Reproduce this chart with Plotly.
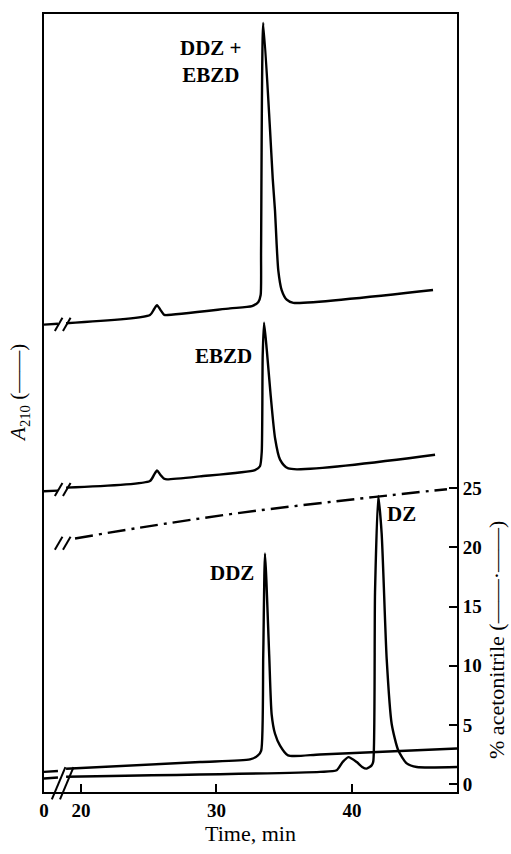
import plotly.graph_objects as go

# ---------------- data ----------------
# time axis: left edge is labelled "0", then an axis break, then 20..47 min
X_RANGE = [17.27, 47.75]
X_TICKVALS = [17.27, 20, 30, 40]
X_TICKTEXT = ["0", "20", "30", "40"]
Y_RANGE = [-0.67, 65.08]
ACN_TICKS = [0, 5, 10, 15, 20, 25]
BREAKS = [18.35, 18.95]

# top chromatogram: DDZ + EBZD (offset A210 trace, arbitrary units)
TOP_T = [17.27, 18.3, None, 18.9, 25.09, 25.40, 25.61, 25.85, 26.10, 26.20, 31.00, 32.62,
         33.09, 33.26, 33.29, 33.45, 33.95, 34.15, 34.32, 34.44, 34.56, 34.81, 35.18, 35.67, 45.98]
TOP_A = [38.83, 38.90, None, 38.95, 39.64, 40.15, 40.47, 40.10, 39.70, 39.64, 40.20, 40.40,
         40.75, 41.33, 45.0, 64.33, 55.33, 51.17, 48.42, 45.61, 43.42, 41.75, 40.94, 40.67, 41.75]

# middle chromatogram: EBZD
MID_T = [17.27, 18.3, None, 18.9, 25.09, 25.40, 25.61, 25.85, 26.15, 26.35, 28.78, 32.84,
         33.21, 33.34, 33.41, 33.51, 33.71, 34.00, 34.32, 34.69, 35.30, 46.13]
MID_A = [24.75, 24.80, None, 25.05, 25.61, 26.15, 26.50, 26.15, 25.80, 25.75, 26.00, 26.53,
         26.86, 28.10, 36.17, 39.00, 36.72, 32.83, 29.25, 27.42, 26.67, 27.83]

# bottom chromatograms: DDZ and DZ
DDZ_T = [17.27, 18.3, None, 18.9, 28.78, 32.47, 33.06, 33.30, 33.45, 33.58, 33.89, 34.07,
         34.32, 34.69, 35.28, 37.64, 47.75]
DDZ_A = [1.03, 1.10, None, 1.30, 1.86, 2.08, 2.42, 2.83, 10.90, 19.50, 10.90, 5.90,
         4.25, 3.25, 2.42, 2.50, 3.00]

DZ_T = [17.27, 18.3, None, 18.9, 37.64, 38.87, 39.31, 39.73, 40.35, 40.75, 41.08, 41.45,
        41.57, 41.70, 41.94, 42.19, 42.56, 42.93, 43.42, 44.04, 44.78, 47.75]
DZ_A = [0.475, 0.55, None, 0.62, 1.03, 1.17, 1.86, 2.28, 1.86, 1.45, 1.31, 1.58,
        1.90, 16.20, 24.36, 21.17, 10.58, 5.08, 2.83, 1.75, 1.44, 1.44]

# % acetonitrile gradient (right axis)
ACN_T = [19.56, 24.35, 31.73, 41.55, 47.01]
ACN_P = [20.75, 21.67, 22.92, 24.25, 24.92]

# peak labels
LABELS = [
    ("DDZ +<br>EBZD", 29.59, 61.1),
    ("EBZD", 30.50, 36.2),
    ("DDZ", 31.18, 17.83),
    ("DZ", 43.65, 22.79),
]

SERIF = "Liberation Serif, Times New Roman, serif"
LW = 2.4

fig = go.Figure()
for t, a in [(TOP_T, TOP_A), (MID_T, MID_A), (DDZ_T, DDZ_A), (DZ_T, DZ_A)]:
    fig.add_trace(go.Scatter(x=t, y=a, mode="lines",
                             line=dict(color="black", width=LW, shape="spline", smoothing=0.6),
                             connectgaps=False, showlegend=False, hoverinfo="skip"))

fig.add_trace(go.Scatter(x=ACN_T, y=ACN_P, mode="lines", yaxis="y2",
                         line=dict(color="black", width=LW, dash="18px,6px,3px,6px", shape="spline"),
                         showlegend=False, hoverinfo="skip"))

# break marks on each trace
shapes = []
dx, dy = 0.28, 0.55
centers = [TOP_A[1] - 0.05, MID_A[1] + 0.1, ACN_P[0] - 0.4]
for vc in centers:
    for tb in BREAKS:
        shapes.append(dict(type="line", xref="x", yref="y", x0=tb - dx, y0=vc - dy, x1=tb + dx, y1=vc + dy,
                           line=dict(color="black", width=2)))
# long break marks through the bottom two traces and the time axis
span = X_RANGE[1] - X_RANGE[0]
for tb in BREAKS:
    shapes.append(dict(type="line", xref="paper", yref="paper",
                       x0=(tb - 0.5 - X_RANGE[0]) / span, y0=-0.0095,
                       x1=(tb + 0.5 - X_RANGE[0]) / span, y1=0.032,
                       line=dict(color="black", width=2)))
fig.update_layout(shapes=shapes)

for text, x, y in LABELS:
    fig.add_annotation(x=x, y=y, text=f"<b>{text}</b>", showarrow=False,
                       font=dict(family=SERIF, size=21, color="black"), align="center")

# axis titles
fig.add_annotation(xref="paper", yref="paper", x=-0.0605, y=0.513, textangle=-90,
                   xanchor="center", yanchor="middle",
                   text="<i>A</i><sub>210</sub> (——)", showarrow=False,
                   font=dict(family=SERIF, size=21, color="black"))
fig.add_annotation(xref="paper", yref="paper", x=1.0955, y=0.196, textangle=-90,
                   xanchor="center", yanchor="middle",
                   text="% acetonitrile (——·——)", showarrow=False,
                   font=dict(family=SERIF, size=22, color="black"))

fig.update_layout(
    width=511, height=854,
    margin=dict(l=44, r=54, t=13, b=52),
    paper_bgcolor="white", plot_bgcolor="white",
    font=dict(family=SERIF, color="black"),
    xaxis=dict(range=X_RANGE, tickvals=X_TICKVALS, ticktext=X_TICKTEXT,
               ticks="inside", ticklen=8, tickwidth=2, tickcolor="black",
               showline=True, linewidth=2, linecolor="black", mirror=True,
               showgrid=False, zeroline=False,
               tickfont=dict(family=SERIF, size=19, color="black", weight="bold"),
               title=dict(text="Time, min", standoff=6, font=dict(family=SERIF, size=22, color="black"))),
    yaxis=dict(range=Y_RANGE, showticklabels=False, ticks="", showgrid=False, zeroline=False,
               showline=True, linewidth=2, linecolor="black"),
    yaxis2=dict(range=Y_RANGE, overlaying="y", side="right", tickvals=ACN_TICKS,
                ticks="inside", ticklen=8, tickwidth=2, tickcolor="black",
                showline=True, linewidth=2, linecolor="black", showgrid=False, zeroline=False,
                tickfont=dict(family=SERIF, size=19, color="black", weight="bold")),
)

fig.write_html("out.html")
